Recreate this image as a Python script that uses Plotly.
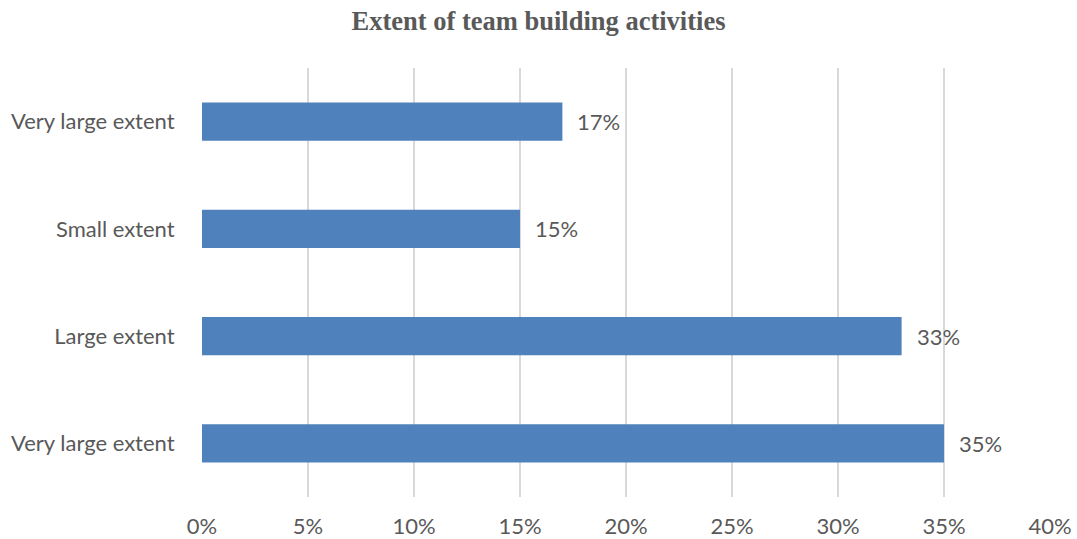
import plotly.graph_objects as go

# Response categories, listed from bottom to top of the chart
categories = ["Very large extent", "Large extent", "Small extent", "Very large extent"]
shares = [35, 33, 15, 17]  # percent of respondents

x_ticks = [0, 5, 10, 15, 20, 25, 30, 35, 40]
x_tick_labels = [f"{v}%" for v in x_ticks]

positions = list(range(len(categories)))

label_font = dict(family="Lato, Open Sans, sans-serif", size=22, color="#595959")

fig = go.Figure(
    go.Bar(
        x=shares,
        y=positions,
        orientation="h",
        marker=dict(color="#4F81BD", line=dict(width=0)),
        width=0.355,
        hoverinfo="skip",
    )
)

# Value labels placed just past the end of each bar
for pos, val in zip(positions, shares):
    fig.add_annotation(
        x=val, y=pos, text=f"{val}%", showarrow=False,
        xanchor="left", yanchor="middle", xshift=13,
        font=label_font,
    )

fig.update_layout(
    width=1077, height=539,
    margin=dict(l=202, r=27, t=68, b=42),
    plot_bgcolor="white", paper_bgcolor="white",
    showlegend=False,
    title=dict(
        text="<b>Extent of team building activities</b>",
        x=0.5, xanchor="center", y=0.962, yanchor="middle",
        font=dict(family="Liberation Serif, Times New Roman, serif", size=26.5, color="#595959"),
    ),
    xaxis=dict(
        range=[0, 40], tickvals=x_ticks, ticktext=x_tick_labels,
        showgrid=True, gridcolor="#D9D9D9", gridwidth=1.5,
        zeroline=False, showline=False, automargin=False,
        ticks="outside", ticklen=10, tickcolor="rgba(0,0,0,0)",
        tickfont=label_font,
    ),
    yaxis=dict(
        range=[-0.5, 3.5], tickvals=positions, ticktext=categories,
        showgrid=False, zeroline=False, showline=False, automargin=False,
        ticks="outside", ticklen=22, tickcolor="rgba(0,0,0,0)",
        tickfont=label_font,
    ),
)

fig.write_html("out.html")
